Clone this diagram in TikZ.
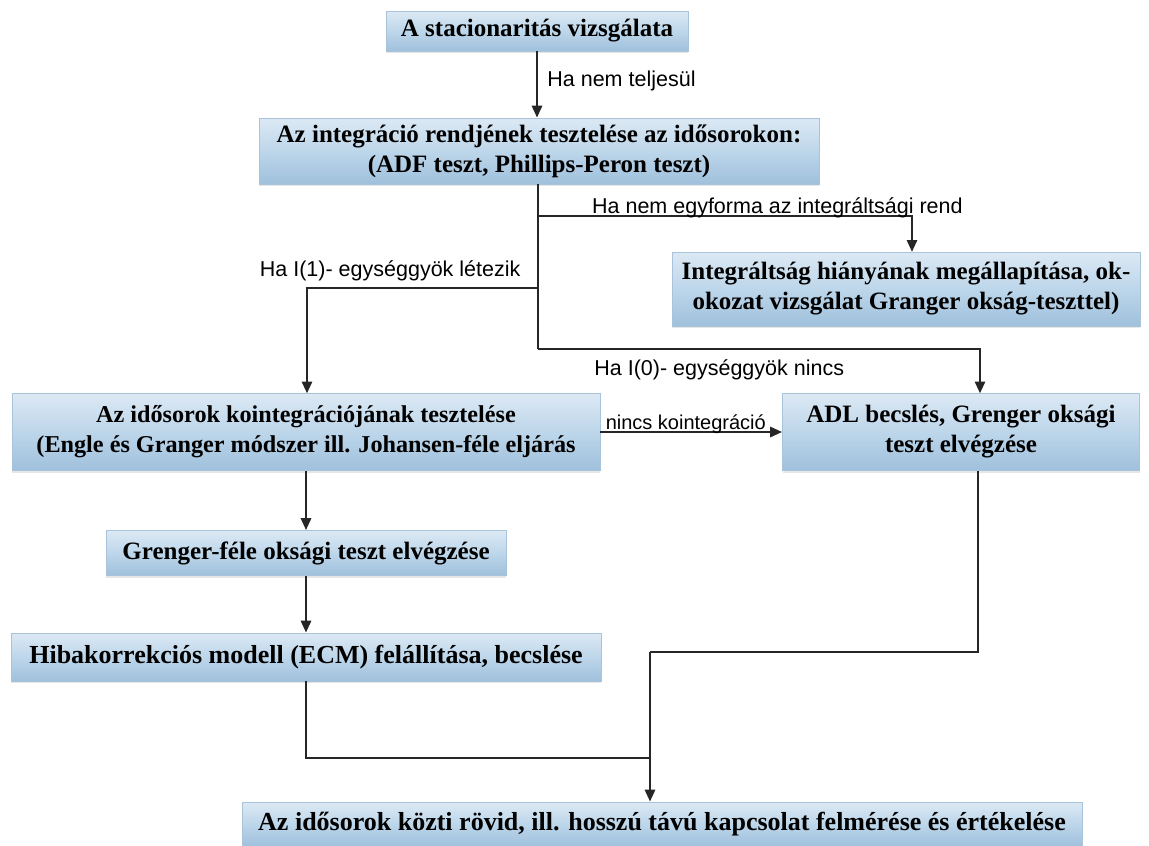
\documentclass[tikz,border=0pt]{standalone}
\usepackage{fontspec}
\setmainfont{Liberation Serif}
\newfontfamily\labelfont{Liberation Sans}
\usepackage{tikz}
\usetikzlibrary{arrows.meta,calc,positioning,shadows}
\usepackage{xcolor}
\definecolor{boxtop}{HTML}{DCE9F4}
\definecolor{boxmid}{HTML}{BDD6EA}
\definecolor{boxbot}{HTML}{9FC0DC}
\definecolor{boxedge}{HTML}{A9C4DA}

\begin{document}
\begin{tikzpicture}[x=1pt, y=-1pt, >={Triangle[width=10pt,length=12pt]},
  box/.style={draw=boxedge, line width=0.6pt, top color=boxtop, bottom color=boxbot, middle color=boxmid,
    align=center, inner sep=2pt, font=\fontsize{25}{30}\selectfont\bfseries,
    drop shadow={opacity=0.2, shadow xshift=0pt, shadow yshift=-2pt}},
  lbl/.style={font=\labelfont\fontsize{21.5}{24}\selectfont, inner sep=1pt},
  conn/.style={line width=2.8pt, draw=black!85}]
  \useasboundingbox (0,0) rectangle (1149,846);
  % boxes
  \node[box, minimum width=302pt, minimum height=40pt] (stac) at (537,31) {A stacionaritás vizsgálata};
  \node[box, minimum width=560pt, minimum height=66pt] (integ) at (539,151)
    {Az integráció rendjének tesztelése az idősorokon:\\(ADF teszt, Phillips-Peron teszt)};
  \node[box, minimum width=468pt, minimum height=74pt] (hiany) at (906,289)
    {Integráltság hiányának megállapítása, ok-\\okozat vizsgálat Granger okság-teszttel)};
  \node[box, minimum width=588pt, minimum height=77pt, font=\fontsize{24.2}{30}\selectfont\bfseries] (koint) at (306,432)
    {Az idősorok kointegrációjának tesztelése\\(Engle és Granger módszer ill. Johansen-féle eljárás};
  \node[box, minimum width=357pt, minimum height=77pt] (adl) at (961,432)
    {ADL becslés, Grenger oksági\\teszt elvégzése};
  \node[box, minimum width=400pt, minimum height=45pt] (grang) at (306,553) {Grenger-féle oksági teszt elvégzése};
  \node[box, minimum width=590pt, minimum height=48pt, font=\fontsize{26}{29}\selectfont\bfseries] (ecm) at (306,657)
    {Hibakorrekciós modell (ECM) felállítása, becslése};
  \node[box, minimum width=840pt, minimum height=44pt, font=\fontsize{26}{29}\selectfont\bfseries] (final) at (662,824)
    {Az idősorok közti rövid, ill. hosszú távú kapcsolat felmérése és értékelése};
  % branch points
  \coordinate (split1) at (538,216);
  \coordinate (split2) at (538,288);
  \coordinate (split3) at (538,349);
  \coordinate (merge) at (650,652);
  \coordinate (join) at (650,758);
  % connectors
  \draw[conn, ->] (stac.south) -- node[lbl, right=8pt, pos=0.45]{Ha nem teljesül} (stac.south |- integ.north);
  \draw[conn] (integ.south -| split1) -- (split3);
  \draw[conn, ->] (split1) -- node[lbl, anchor=base, yshift=3pt, pos=0.64]{Ha nem egyforma az integráltsági rend} (912,216) -- (912,252);
  \draw[conn, ->] (split2) -- node[lbl, above=5pt, pos=0.64]{Ha I(1)- egységgyök létezik} (307,288) -- (307,393.5);
  \draw[conn, ->] (split3) -- node[lbl, below=8pt, pos=0.41]{Ha I(0)- egységgyök nincs} (980,349) -- (980,393.5);
  \draw[conn, ->] (koint.east) -- node[lbl, anchor=base, yshift=3pt, pos=0.47, font=\labelfont\fontsize{20}{22}\selectfont]{nincs kointegráció} (adl.west);
  \draw[conn, ->] (koint.south -| grang.north) -- (grang.north);
  \draw[conn, ->] (grang.south) -- (ecm.north);
  \draw[conn] (978,470.5) |- (merge);
  \draw[conn, ->] (merge) -- (merge |- final.north);
  \draw[conn] (ecm.south) |- (join);
\end{tikzpicture}
\end{document}
